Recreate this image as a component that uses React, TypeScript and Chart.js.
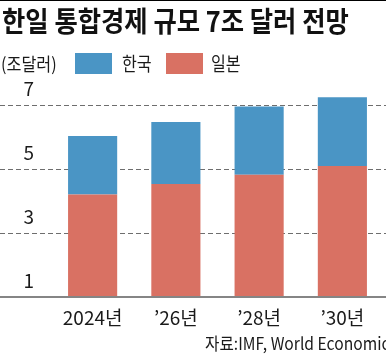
import React, { useEffect, useRef } from 'react';
import { Chart, registerables } from 'chart.js';

Chart.register(...registerables);

const categories = ['2024년', '’26년', '’28년', '’30년'];
const japanValues = [4.2, 4.53, 4.82, 5.09];
const koreaValues = [1.83, 1.94, 2.13, 2.15];
const yTicks = [1, 3, 5, 7];
const seriesNames = ['한국', '일본'];
const koreaColor = '#4a95c5';
const japanColor = '#d97163';
const titleText = '한일 통합경제 규모 7조 달러 전망';
const unitText = '(조달러)';
const sourceText = '자료:IMF, World Economic Outlook';

const axisFont = "'Liberation Sans Narrow', 'Noto Sans CJK KR', sans-serif";
const krFont = "'Noto Sans CJK KR', 'Noto Sans', sans-serif";

const gridPlugin = {
  id: 'fullGrid',
  beforeDatasetsDraw(chart: any) {
    const { ctx, width } = chart;
    const y = chart.scales.y;
    ctx.save();
    ctx.strokeStyle = '#6e6e6e';
    ctx.lineWidth = 1;
    ctx.setLineDash([5, 3]);
    yTicks.forEach((v) => {
      if (v === y.min) return;
      const py = Math.round(y.getPixelForValue(v)) + 0.5;
      ctx.beginPath();
      ctx.moveTo(0, py);
      ctx.lineTo(width, py);
      ctx.stroke();
    });
    ctx.restore();
  },
  afterDatasetsDraw(chart: any) {
    const { ctx, width } = chart;
    const y = chart.scales.y;
    const py = y.getPixelForValue(y.min);
    ctx.save();
    ctx.strokeStyle = '#858585';
    ctx.lineWidth = 2;
    ctx.beginPath();
    ctx.moveTo(0, py);
    ctx.lineTo(width, py);
    ctx.stroke();
    ctx.restore();
  },
};

export default function App() {
  const canvasRef = useRef<HTMLCanvasElement | null>(null);

  useEffect(() => {
    document.body.style.margin = '0';
    const canvas = canvasRef.current;
    if (!canvas) return;
    const chart = new Chart(canvas, {
      type: 'bar',
      data: {
        labels: categories,
        datasets: [
          {
            label: seriesNames[1],
            data: japanValues,
            backgroundColor: japanColor,
            borderWidth: 0,
            barPercentage: 0.59,
            categoryPercentage: 1,
          },
          {
            label: seriesNames[0],
            data: koreaValues,
            backgroundColor: koreaColor,
            borderWidth: 0,
            barPercentage: 0.59,
            categoryPercentage: 1,
          },
        ],
      },
      options: {
        animation: false,
        responsive: false,
        maintainAspectRatio: false,
        devicePixelRatio: 1,
        layout: { padding: { top: 81, right: 2, left: 0, bottom: 0 } },
        plugins: {
          legend: { display: false },
          tooltip: { enabled: false },
          title: { display: false },
        },
        scales: {
          x: {
            stacked: true,
            grid: { display: false, drawTicks: false },
            border: { display: false },
            ticks: {
              color: '#1a1a1a',
              font: { family: axisFont, size: 19 },
              padding: 9,
              maxRotation: 0,
            },
            afterFit: (s: any) => {
              s.height = 58;
            },
          },
          y: {
            stacked: true,
            min: 1,
            max: 7.75,
            grid: { display: false, drawTicks: false },
            border: { display: false },
            afterBuildTicks: (s: any) => {
              s.ticks = yTicks.map((v) => ({ value: v }));
            },
            ticks: {
              color: '#1a1a1a',
              font: { family: axisFont, size: 19 },
              padding: 17,
              labelOffset: -16,
            },
            afterFit: (s: any) => {
              s.width = 51;
            },
          },
        },
      },
      plugins: [gridPlugin],
    });
    return () => chart.destroy();
  }, []);

  return (
    <div
      style={{
        position: 'relative',
        width: 386,
        height: 355,
        overflow: 'hidden',
        background: '#fff',
      }}
    >
      <canvas
        ref={canvasRef}
        width={386}
        height={355}
        style={{ position: 'absolute', left: 0, top: 0, width: 386, height: 355 }}
      />
      <div style={{ position: 'absolute', left: 0, top: 0, width: 386, height: 1, background: '#000' }} />
      <div
        style={{
          position: 'absolute',
          left: 2,
          top: 4,
          fontFamily: krFont,
          fontWeight: 700,
          fontSize: 28,
          lineHeight: '32px',
          color: '#111',
          whiteSpace: 'nowrap',
          transform: 'scaleX(0.905)',
          transformOrigin: 'left center',
        }}
      >
        {titleText}
      </div>
      <div
        style={{
          position: 'absolute',
          left: 1,
          top: 52,
          fontFamily: krFont,
          fontSize: 18,
          lineHeight: '22px',
          color: '#1a1a1a',
          whiteSpace: 'nowrap',
          transform: 'scaleX(0.9)',
          transformOrigin: 'left center',
        }}
      >
        {unitText}
      </div>
      <div style={{ position: 'absolute', left: 75, top: 53, width: 37, height: 21, background: koreaColor }} />
      <div
        style={{
          position: 'absolute',
          left: 122,
          top: 52,
          fontFamily: krFont,
          fontSize: 19,
          lineHeight: '22px',
          color: '#1a1a1a',
          whiteSpace: 'nowrap',
          transform: 'scaleX(0.85)',
          transformOrigin: 'left center',
        }}
      >
        {seriesNames[0]}
      </div>
      <div style={{ position: 'absolute', left: 166, top: 53, width: 37, height: 21, background: japanColor }} />
      <div
        style={{
          position: 'absolute',
          left: 211,
          top: 52,
          fontFamily: krFont,
          fontSize: 19,
          lineHeight: '22px',
          color: '#1a1a1a',
          whiteSpace: 'nowrap',
          transform: 'scaleX(0.85)',
          transformOrigin: 'left center',
        }}
      >
        {seriesNames[1]}
      </div>
      <div
        style={{
          position: 'absolute',
          left: 205,
          top: 333,
          fontFamily: krFont,
          fontSize: 17,
          lineHeight: '20px',
          color: '#1a1a1a',
          whiteSpace: 'nowrap',
          transform: 'scaleX(0.92)',
          transformOrigin: 'left center',
        }}
      >
        {sourceText}
      </div>
    </div>
  );
}
